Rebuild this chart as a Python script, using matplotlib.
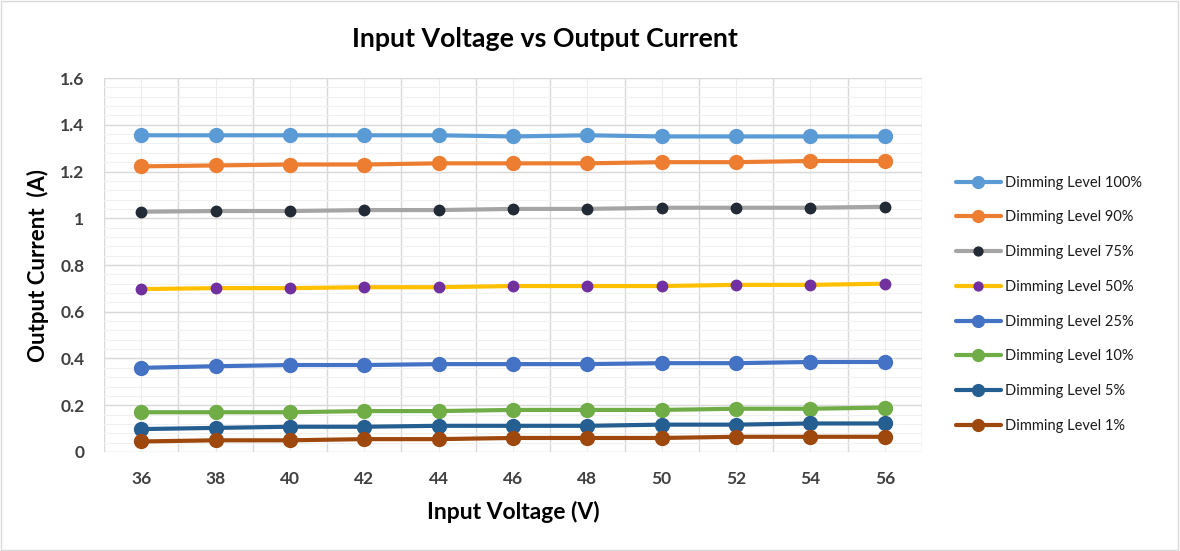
import matplotlib.pyplot as plt

voltage = [36, 38, 40, 42, 44, 46, 48, 50, 52, 54, 56]

level_100 = [1.355, 1.355, 1.355, 1.355, 1.355, 1.35, 1.355, 1.35, 1.35, 1.35, 1.35]
level_90 = [1.222, 1.226, 1.23, 1.23, 1.235, 1.235, 1.235, 1.24, 1.24, 1.245, 1.245]
level_75 = [1.028, 1.031, 1.031, 1.035, 1.035, 1.04, 1.04, 1.045, 1.045, 1.045, 1.049]
level_50 = [0.697, 0.701, 0.701, 0.705, 0.705, 0.71, 0.71, 0.71, 0.715, 0.715, 0.72]
level_25 = [0.36, 0.367, 0.372, 0.372, 0.376, 0.376, 0.376, 0.38, 0.38, 0.385, 0.385]
level_10 = [0.17, 0.17, 0.17, 0.175, 0.175, 0.18, 0.18, 0.18, 0.185, 0.185, 0.19]
level_5 = [0.098, 0.103, 0.108, 0.108, 0.112, 0.112, 0.112, 0.117, 0.117, 0.122, 0.122]
level_1 = [0.045, 0.05, 0.05, 0.055, 0.055, 0.06, 0.06, 0.06, 0.065, 0.065, 0.065]

labels = ['Dimming Level 100%', 'Dimming Level 90%', 'Dimming Level 75%',
          'Dimming Level 50%', 'Dimming Level 25%', 'Dimming Level 10%',
          'Dimming Level 5%', 'Dimming Level 1%']

y_ticks = [0, 0.2, 0.4, 0.6, 0.8, 1.0, 1.2, 1.4, 1.6]
y_tick_labels = ['0', '0.2', '0.4', '0.6', '0.8', '1', '1.2', '1.4', '1.6']


def main():
    plt.rcParams['font.family'] = ['Lato', 'DejaVu Sans']

    fig = plt.figure(figsize=(11.8, 5.51), dpi=100)
    ax = fig.add_axes([0.0881, 0.1797, 0.6933, 0.6787])

    series = [level_100, level_90, level_75, level_50,
              level_25, level_10, level_5, level_1]
    # (line colour, marker colour, marker size)
    styles = [('#5B9BD5', '#5B9BD5', 10),
              ('#ED7D31', '#ED7D31', 10),
              ('#A5A5A5', '#222A35', 7.5),
              ('#FFC000', '#7030A0', 7.5),
              ('#4472C4', '#4472C4', 10),
              ('#70AD47', '#70AD47', 10),
              ('#255E91', '#255E91', 10),
              ('#9E480E', '#9E480E', 10)]

    for vals, lab, (lc, mc, ms) in zip(series, labels, styles):
        ax.plot(voltage, vals, color=lc, lw=3, marker='o', ms=ms,
                markerfacecolor=mc, markeredgecolor=mc, label=lab,
                solid_capstyle='round', zorder=3)

    # Gridlines: major between categories, minor on categories
    for x in range(35, 58, 2):
        ax.axvline(x, color='#D9D9D9', lw=1, zorder=1)
    for x in voltage:
        ax.axvline(x, color='#EDEDED', lw=0.8, zorder=1)
    for i in range(41):
        ax.axhline(i * 0.04, color='#F0F0F0', lw=0.8, zorder=1)
    for y in y_ticks:
        ax.axhline(y, color='#D9D9D9', lw=1, zorder=1)

    ax.set_xlim(35, 57)
    ax.set_ylim(0, 1.6)
    ax.set_xticks(voltage)
    ax.set_yticks(y_ticks)
    ax.set_yticklabels(y_tick_labels)

    for s in ax.spines.values():
        s.set_visible(False)
    ax.tick_params(which='both', length=0, labelsize=12.5,
                   labelcolor='#404040')
    ax.tick_params(axis='x', pad=14)
    ax.tick_params(axis='y', pad=14)
    for t in ax.get_xticklabels() + ax.get_yticklabels():
        t.set_fontweight('bold')

    ax.set_xlabel('Input Voltage (V)', fontsize=16.5, fontweight='bold',
                  labelpad=10)
    ax.set_ylabel('Output Current  (A)', fontsize=16, fontweight='bold',
                  labelpad=8)
    fig.text(0.462, 0.93, 'Input Voltage vs Output Current', fontsize=19.3,
             fontweight='bold', ha='center', va='center')

    ax.legend(loc='center left', bbox_to_anchor=(1.025, 0.395), frameon=False,
              fontsize=10.5, labelspacing=1.42, handlelength=3.1,
              handletextpad=0.3, labelcolor='#1a1a1a', markerscale=0.85)

    # Outer border of the chart area
    fig.patches.append(plt.Rectangle((0.001, 0.002), 0.997, 0.996,
                                     transform=fig.transFigure, fill=False,
                                     edgecolor='#D9D9D9', lw=1))

    fig.savefig('out.png', dpi=100)
    plt.close()


if __name__ == "__main__":
    main()
